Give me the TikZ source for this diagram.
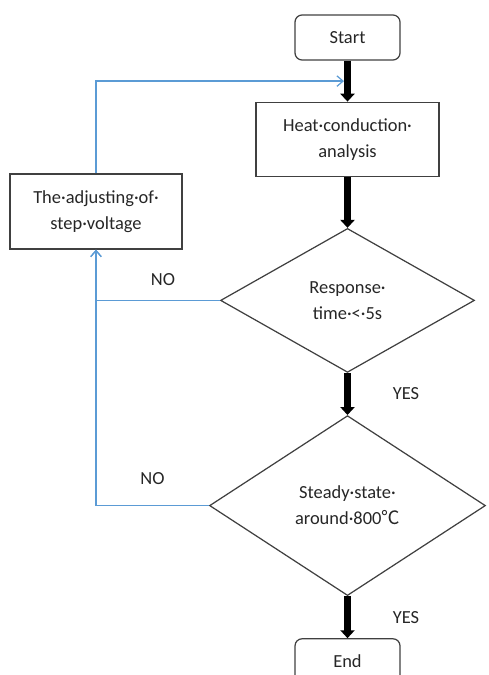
\documentclass[tikz,border=0pt]{standalone}
\usepackage{fontspec}
\setmainfont{Carlito}
\newfontfamily\cjk{Noto Sans CJK SC}
\usetikzlibrary{positioning,arrows.meta,shapes.geometric}
\definecolor{loopblue}{RGB}{91,155,213}

\begin{document}
\begin{tikzpicture}[
  x=0.02cm, y=-0.02cm,
  font=\fontsize{10.5}{14.7}\selectfont,
  text=black!85,
  box/.style={draw=black!75, line width=0.7pt, minimum width=3.66cm, minimum height=1.48cm, align=center},
  term/.style={draw=black!75, line width=0.7pt, rounded corners=4pt, minimum width=2.1cm, minimum height=0.9cm, align=center},
  decision/.style={draw=black!75, line width=0.7pt, diamond, inner sep=0pt, align=center},
  arrow/.style={-{Triangle[width=8pt,length=4.5pt]}, line width=4pt},
  back/.style={-{Straight Barb[width=6pt,length=3.5pt]}, draw=loopblue, line width=0.7pt}
]
\path[use as bounding box, clip] (0,0) rectangle (489,675);
% main column
\node[term] (start) at (347.5,37.5) {Start};
\node[box, below=0.82cm of start] (heat) {Heat·conduction·\\analysis};
\node[decision, minimum width=5.08cm, minimum height=2.88cm, below=1.02cm of heat] (resp) {Response·\\time·<·5s};
\node[decision, minimum width=5.52cm, minimum height=3.6cm, below=0.84cm of resp] (steady) {Steady·state·\\around·800{\cjk ℃}};
\node[term, below=0.84cm of steady] (end) {End};
% feedback box
\node[box, minimum width=3.44cm, minimum height=1.5cm] (adjust) at (96,211.5) {The·adjusting·of·\\step·voltage};
\coordinate[below=0.41cm of start] (merge);

\draw[arrow] (start) -- (heat);
\draw[arrow] (heat) -- (resp);
\draw[arrow] (resp) -- node[right=0.72cm] {YES} (steady);
\draw[arrow] (steady) -- node[right=0.72cm] {YES} (end);

\draw[back] (adjust.north) |- ([xshift=-2pt]merge);
\draw[back] (resp.west) -| node[pos=0.23, above=5pt] {NO} (adjust.south);
\draw[back] (steady.west) -| node[pos=0.25, above=8.5pt] {NO} (adjust.south);
\end{tikzpicture}
\end{document}
